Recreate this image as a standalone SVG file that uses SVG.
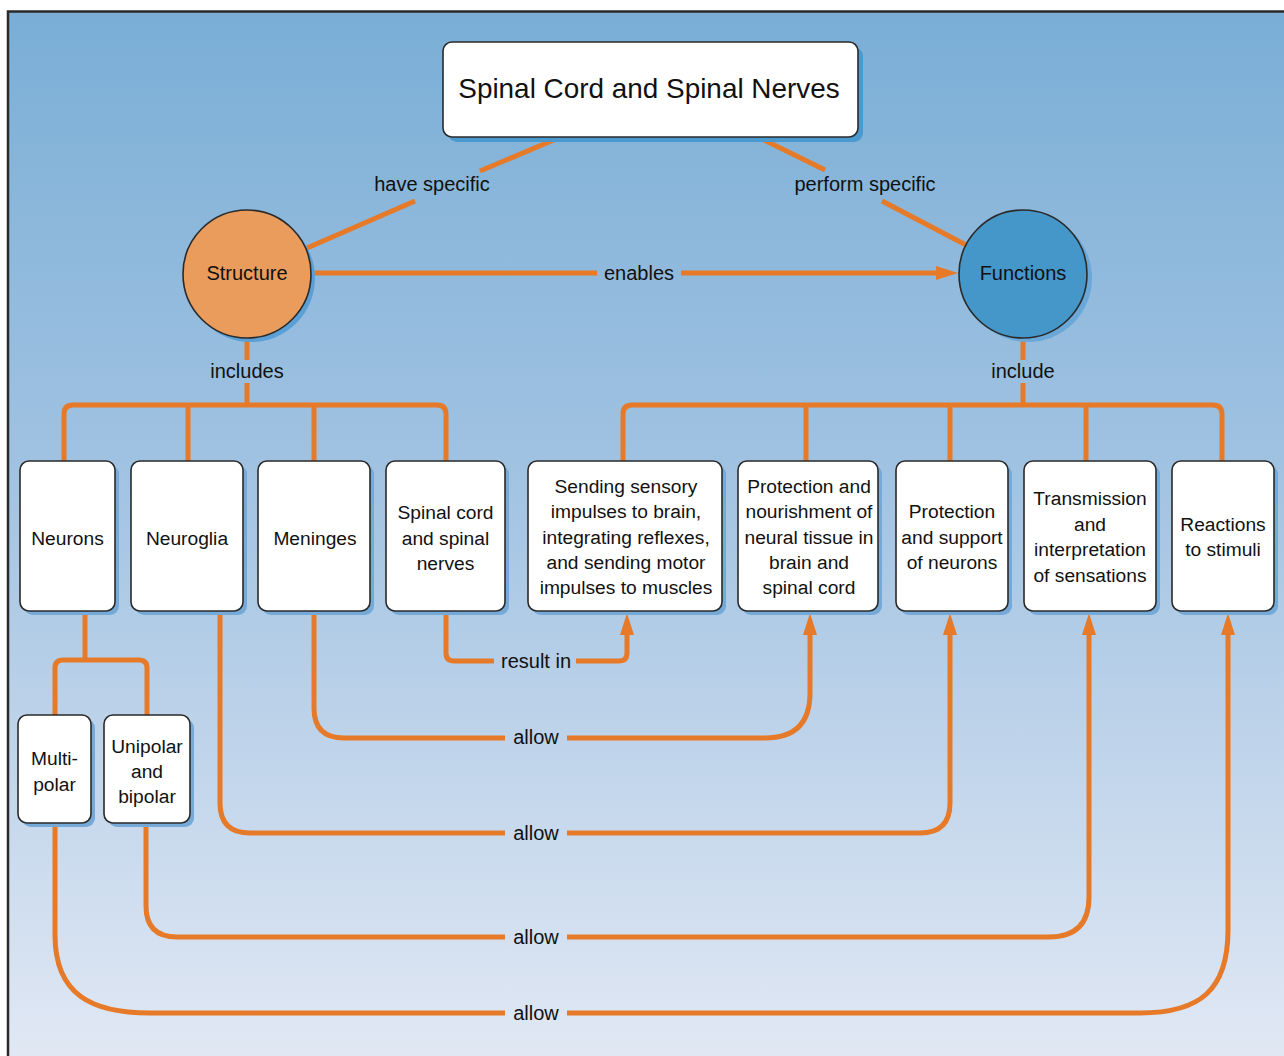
<svg xmlns="http://www.w3.org/2000/svg" width="1284" height="1056" viewBox="0 0 1284 1056">
<defs>
<linearGradient id="bg" x1="0" y1="0" x2="0" y2="1">
<stop offset="0" stop-color="#7aaed6"/>
<stop offset="0.45" stop-color="#a2c3e2"/>
<stop offset="1" stop-color="#e1e8f4"/>
</linearGradient>
<marker id="arr" markerUnits="userSpaceOnUse" markerWidth="24" markerHeight="16" refX="2" refY="7" orient="auto" viewBox="0 0 24 14">
<path d="M0,0 L22,7 L0,14 z" fill="#e67a28"/>
</marker>
<style>
.box{fill:#fff;stroke:#2a2a2a;stroke-width:1.6}
.sh{fill:#74a9d8}
.t{font-family:"Liberation Sans",Arial,sans-serif;font-size:19.2px;fill:#111;text-anchor:middle}
.lb{font-family:"Liberation Sans",Arial,sans-serif;font-size:20px;fill:#111;text-anchor:middle}
.c{fill:none;stroke:#e67a28;stroke-width:5}
</style>
</defs>
<rect x="0" y="0" width="1284" height="1056" fill="#fff"/>
<rect x="8" y="12" width="1276" height="1044" fill="url(#bg)"/>
<path d="M8,1056 V11.5 H1284" fill="none" stroke="#2a2a2a" stroke-width="2.5"/>

<g id="connectors">
<path class="c" d="M556,139 L480,171"/>
<path class="c" d="M415,201 L307,248"/>
<path class="c" d="M762,139 L825,170"/>
<path class="c" d="M882,201 L966,245"/>
<path class="c" d="M311,273 H597"/>
<path class="c" d="M681,273 H938" marker-end="url(#arr)"/>
<path class="c" d="M247,338 V360 M247,383 V405"/>
<path class="c" d="M64,461 V414 Q64,405 73,405 H437 Q446,405 446,414 V461 M188,405 V461 M314,405 V461"/>
<path class="c" d="M1023,338 V360 M1023,383 V405"/>
<path class="c" d="M623,461 V414 Q623,405 632,405 H1213 Q1222,405 1222,414 V461 M806,405 V461 M950,405 V461 M1086,405 V461"/>
<path class="c" d="M85,611 V660"/>
<path class="c" d="M55,715 V668 Q55,660 63,660 H139 Q147,660 147,668 V715"/>
<path class="c" d="M446,611 V653 Q446,661 454,661 H494"/>
<path class="c" d="M576,661 H619 Q627,661 627,653 V633" marker-end="url(#arr)"/>
<path class="c" d="M314,611 V708 Q314,738 344,738 H505"/>
<path class="c" d="M567,738 H765 Q810,738 810,693 V633" marker-end="url(#arr)"/>
<path class="c" d="M220,611 V803 Q220,833 250,833 H505"/>
<path class="c" d="M567,833 H920 Q950,833 950,803 V633" marker-end="url(#arr)"/>
<path class="c" d="M146,823 V906 Q146,937 177,937 H505"/>
<path class="c" d="M567,937 H1049 Q1089,937 1089,897 V633" marker-end="url(#arr)"/>
<path class="c" d="M55,823 V935 C55,995 92,1013 150,1013 H505"/>
<path class="c" d="M567,1013 H1140 C1200,1013 1228,990 1228,930 V633" marker-end="url(#arr)"/>
<text class="lb" x="432" y="191">have specific</text>
<text class="lb" x="865" y="191">perform specific</text>
<text class="lb" x="639" y="280">enables</text>
<text class="lb" x="247" y="378">includes</text>
<text class="lb" x="1023" y="378">include</text>
<text class="lb" x="536" y="668">result in</text>
<text class="lb" x="536" y="744">allow</text>
<text class="lb" x="536" y="840">allow</text>
<text class="lb" x="536" y="944">allow</text>
<text class="lb" x="536" y="1020">allow</text>
</g>

<g id="title">
<rect x="448" y="47" width="415" height="95" rx="9" fill="#4a9ad0"/>
<rect class="box" x="443" y="42" width="415" height="95" rx="9" stroke-width="2.5"/>
<text x="649" y="98" font-family="Liberation Sans, Arial, sans-serif" font-size="27.9" fill="#111" text-anchor="middle">Spinal Cord and Spinal Nerves</text>
</g>

<g id="structure">
<circle cx="251" cy="278" r="64" fill="#5aa0d6"/>
<circle cx="247" cy="274" r="64" fill="#e99c5c" stroke="#2a2a2a" stroke-width="1.6"/>
<text class="lb" x="247" y="280">Structure</text>
</g>

<g id="functions">
<circle cx="1028" cy="278" r="64" fill="#6aa8da"/>
<circle cx="1023" cy="274" r="64" fill="#4597c9" stroke="#2a2a2a" stroke-width="1.6"/>
<text class="lb" x="1023" y="280">Functions</text>
</g>

<g id="neurons">
<rect class="sh" x="24" y="465" width="95" height="150" rx="9"/>
<rect class="box" x="20" y="461" width="95" height="150" rx="9"/>
<text class="t" x="67.5" y="545">Neurons</text>
</g>
<g id="neuroglia">
<rect class="sh" x="135" y="465" width="112" height="150" rx="9"/>
<rect class="box" x="131" y="461" width="112" height="150" rx="9"/>
<text class="t" x="187" y="545">Neuroglia</text>
</g>
<g id="meninges">
<rect class="sh" x="262" y="465" width="112" height="150" rx="9"/>
<rect class="box" x="258" y="461" width="112" height="150" rx="9"/>
<text class="t" x="315" y="545">Meninges</text>
</g>
<g id="spinal-cord-nerves">
<rect class="sh" x="390" y="465" width="119" height="150" rx="9"/>
<rect class="box" x="386" y="461" width="119" height="150" rx="9"/>
<text class="t" x="445.5" y="519">Spinal cord</text>
<text class="t" x="445.5" y="545">and spinal</text>
<text class="t" x="445.5" y="570">nerves</text>
</g>
<g id="sending">
<rect class="sh" x="532" y="465" width="194" height="150" rx="9"/>
<rect class="box" x="528" y="461" width="194" height="150" rx="9"/>
<text class="t" x="626" y="493">Sending sensory</text>
<text class="t" x="626" y="518">impulses to brain,</text>
<text class="t" x="626" y="544">integrating reflexes,</text>
<text class="t" x="626" y="569">and sending motor</text>
<text class="t" x="626" y="594">impulses to muscles</text>
</g>
<g id="protection-nourishment">
<rect class="sh" x="742" y="465" width="140" height="150" rx="9"/>
<rect class="box" x="738" y="461" width="140" height="150" rx="9"/>
<text class="t" x="809" y="493">Protection and</text>
<text class="t" x="809" y="518">nourishment of</text>
<text class="t" x="809" y="544">neural tissue in</text>
<text class="t" x="809" y="569">brain and</text>
<text class="t" x="809" y="594">spinal cord</text>
</g>
<g id="protection-support">
<rect class="sh" x="900" y="465" width="112" height="150" rx="9"/>
<rect class="box" x="896" y="461" width="112" height="150" rx="9"/>
<text class="t" x="952" y="518">Protection</text>
<text class="t" x="952" y="544">and support</text>
<text class="t" x="952" y="569">of neurons</text>
</g>
<g id="transmission">
<rect class="sh" x="1028" y="465" width="132" height="150" rx="9"/>
<rect class="box" x="1024" y="461" width="132" height="150" rx="9"/>
<text class="t" x="1090" y="505">Transmission</text>
<text class="t" x="1090" y="531">and</text>
<text class="t" x="1090" y="556">interpretation</text>
<text class="t" x="1090" y="582">of sensations</text>
</g>
<g id="reactions">
<rect class="sh" x="1176" y="465" width="102" height="150" rx="9"/>
<rect class="box" x="1172" y="461" width="102" height="150" rx="9"/>
<text class="t" x="1223" y="531">Reactions</text>
<text class="t" x="1223" y="556">to stimuli</text>
</g>
<g id="multipolar">
<rect class="sh" x="22" y="719" width="73" height="108" rx="9"/>
<rect class="box" x="18" y="715" width="73" height="108" rx="9"/>
<text class="t" x="54.5" y="765">Multi-</text>
<text class="t" x="54.5" y="791">polar</text>
</g>
<g id="unipolar-bipolar">
<rect class="sh" x="108" y="719" width="86" height="108" rx="9"/>
<rect class="box" x="104" y="715" width="86" height="108" rx="9"/>
<text class="t" x="147" y="753">Unipolar</text>
<text class="t" x="147" y="778">and</text>
<text class="t" x="147" y="803">bipolar</text>
</g>
</svg>
